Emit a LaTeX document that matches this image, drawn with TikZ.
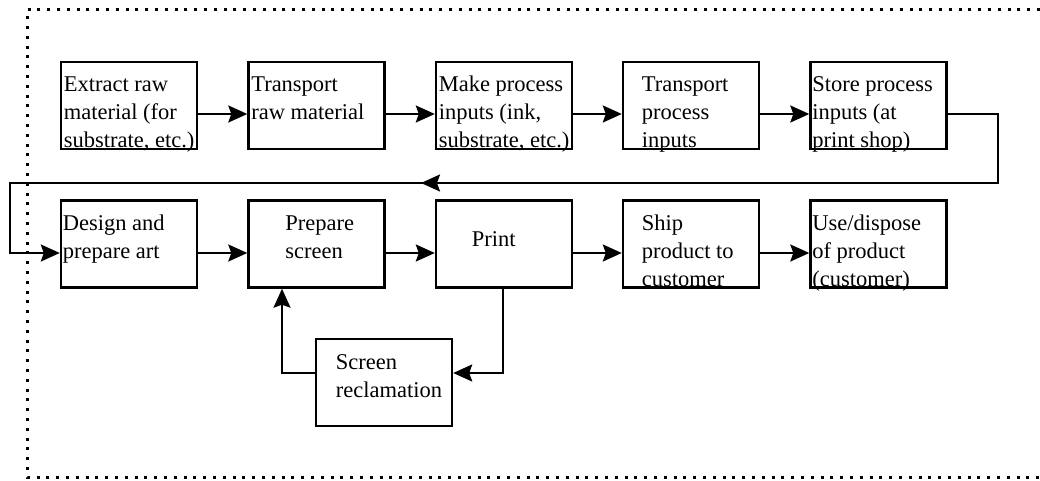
\documentclass[tikz,border=0pt]{standalone}
\usepackage{fontspec}
\setmainfont{Liberation Serif}
\usetikzlibrary{arrows.meta,calc}

% multi-line label whose reference point is the first baseline
\newcommand\stagelines[1]{\parbox[t]{170pt}{\fontsize{22.5}{28}\selectfont\raggedright #1}}

\tikzset{
  stage/.style={draw, line width=2.4pt, minimum width=136pt, minimum height=87pt, inner sep=0pt},
  stagetext/.style={anchor=base west, inner sep=0pt, outer sep=0pt},
  flow/.style={line width=2.1pt, -{Stealth[length=19pt,width=17pt,inset=3pt]}},
  frame/.style={line width=3pt, dash pattern=on 3pt off 6.8pt},
}

\begin{document}
\begin{tikzpicture}[x=1pt,y=-1pt]
\useasboundingbox (0,0) rectangle (1040,481);

% dotted boundary
\draw[frame] (1040,10) -- (27,10) -- (27,477) -- (1040,477);

% process stages, upper row
\node[stage] (b1) at (129,105.5) {};
\node[stage] (b2) at (316.5,105.5) {};
\node[stage] (b3) at (504,105.5) {};
\node[stage] (b4) at (691,105.5) {};
\node[stage] (b5) at (878.5,105.5) {};
% process stages, lower row
\node[stage] (b6) at (129,244) {};
\node[stage] (b7) at (316.5,244) {};
\node[stage] (b8) at (504,244) {};
\node[stage] (b9) at (691,244) {};
\node[stage] (b10) at (878.5,244) {};
% screen reclamation
\node[stage] (rec) at (384,382.5) {};

% stage texts
\node[stagetext] (t1) at ($(b1.north west)+(4,31)$) {\stagelines{Extract raw\\material (for\\substrate, etc.)}};
\node[stagetext] (t2) at ($(b2.north west)+(4,31)$) {\stagelines{Transport\\raw material}};
\node[stagetext] (t3) at ($(b3.north west)+(4,31)$) {\stagelines{Make process\\inputs (ink,\\substrate, etc.)}};
\node[stagetext] (t4) at ($(b4.north west)+(20,31)$) {\stagelines{Transport\\process\\inputs}};
\node[stagetext] (t5) at ($(b5.north west)+(3,31)$) {\stagelines{Store process\\inputs (at\\print shop)}};
\node[stagetext] (t6) at ($(b6.north west)+(3,31)$) {\stagelines{Design and\\prepare art}};
\node[stagetext] (t7) at ($(b7.north west)+(38,31)$) {\stagelines{Prepare\\screen}};
\node[stagetext] (t8) at ($(b8.north west)+(37,47)$) {\stagelines{Print}};
\node[stagetext] (t9) at ($(b9.north west)+(20,31)$) {\stagelines{Ship\\product to\\customer}};
\node[stagetext] (t10) at ($(b10.north west)+(3,31)$) {\stagelines{Use/dispose\\of product\\(customer)}};
\node[stagetext] (t11) at ($(rec.north west)+(21,32)$) {\stagelines{Screen\\reclamation}};

% upper row flow
\foreach \a/\b in {b1/b2,b2/b3,b3/b4,b4/b5}
  \draw[flow] ($(\a.east)+(0,8.5)$) -- ($(\b.west)+(0,8.5)$);
% lower row flow
\foreach \a/\b in {b6/b7,b7/b8,b8/b9,b9/b10}
  \draw[flow] ($(\a.east)+(0,9)$) -- ($(\b.west)+(0,9)$);

% return path from the upper row to the lower row
\coordinate (ra) at (998,114);
\coordinate (rb) at (998,183);
\coordinate (rc) at (10,183);
\coordinate (rd) at (10,253);
\draw[flow] ($(b5.east)+(0,8.5)$) -- (ra) -- (rb) -- (rc) -- (rd) -- ($(b6.west)+(0,9)$);
\coordinate (ma) at (490,183);
\coordinate (mb) at (421,183);
\draw[flow] (ma) -- (mb);

% screen reuse loop
\draw[flow] ($(b8.south)+(-1,0)$) |- ($(rec.east)+(0,-9.5)$);
\draw[flow] ($(rec.west)+(0,-9.5)$) -| ($(b7.south)+(-34.5,0)$);
\end{tikzpicture}
\end{document}
